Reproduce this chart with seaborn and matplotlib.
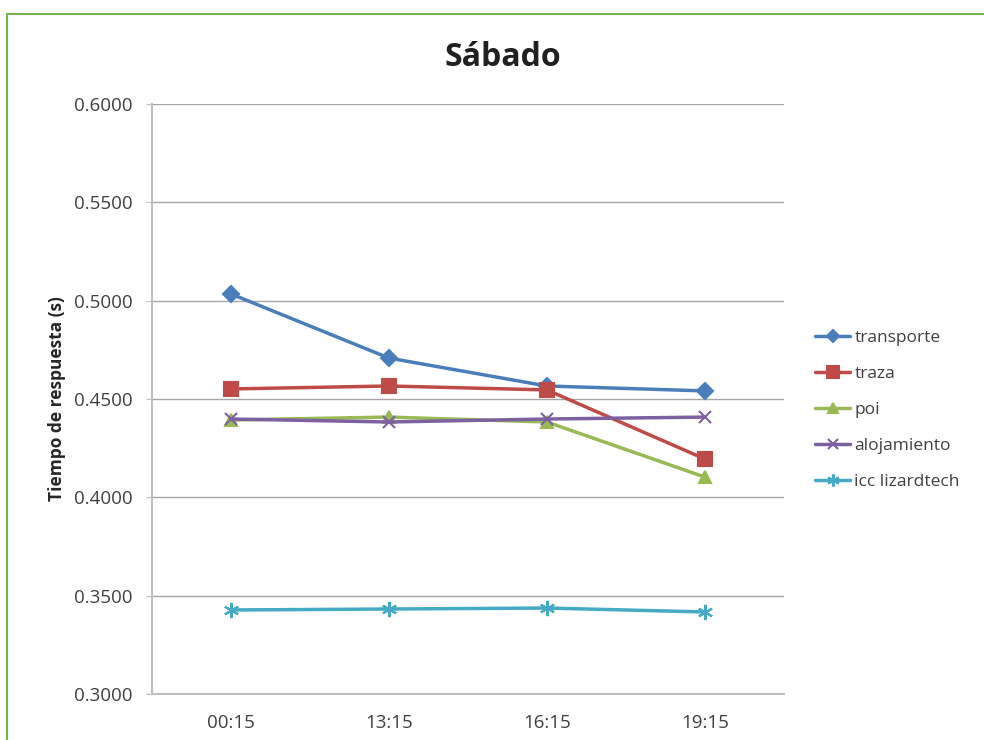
# Sábado - tiempo de respuesta por servicio
import pandas as pd
import matplotlib.pyplot as plt
import seaborn as sns
from matplotlib.lines import Line2D

# data
horas = ['00:15', '13:15', '16:15', '19:15']
transporte = [0.5034, 0.4708, 0.4566, 0.4541]
traza = [0.4551, 0.4566, 0.4546, 0.4195]
poi = [0.4393, 0.4408, 0.4383, 0.4103]
alojamiento = [0.4398, 0.4383, 0.4398, 0.4408]
icc_lizardtech = [0.3427, 0.3432, 0.3437, 0.3417]

series = {
    'transporte': transporte,
    'traza': traza,
    'poi': poi,
    'alojamiento': alojamiento,
    'icc lizardtech': icc_lizardtech,
}
colors = ['#4A7EBB', '#BE4B48', '#98B954', '#7D60A0', '#46AAC5']
markers = ['D', 's', '^', 'x', (6, 2, 0)]
sizes = [8, 10, 9, 9, 11]

sns.set_style('white')
plt.rcParams['font.family'] = ['Open Sans', 'DejaVu Sans']

fig = plt.figure(figsize=(9.84, 7.4), dpi=100)
ax = fig.add_axes([0.1545, 0.0622, 0.642, 0.7973])

for (name, vals), c, m, s in zip(series.items(), colors, markers, sizes):
    df = pd.DataFrame({'hora': horas, 'valor': vals})
    sns.lineplot(data=df, x='hora', y='valor', ax=ax, color=c, marker=m,
                 markersize=s, markeredgecolor=c, markeredgewidth=1.5,
                 linewidth=2.5, label=name, sort=False)

ax.set_xlim(-0.5, 3.5)
ax.set_ylim(0.3, 0.6)
ax.set_yticks([0.30, 0.35, 0.40, 0.45, 0.50, 0.55, 0.60])
ax.set_yticklabels([f'{v:.4f}' for v in ax.get_yticks()])
ax.grid(axis='y', color='#A6A6A6', linewidth=1)
ax.set_axisbelow(True)
for sp in ['top', 'right']:
    ax.spines[sp].set_visible(False)
ax.spines['left'].set_color('#BFBFBF')
ax.spines['bottom'].set_color('#BFBFBF')
ax.spines['left'].set_linewidth(1.5)
ax.spines['bottom'].set_linewidth(1.5)
ax.tick_params(axis='y', left=True, length=4, color='#BFBFBF', labelsize=13.5,
               labelcolor='#404040', pad=10)
ax.tick_params(axis='x', bottom=False, labelsize=13.5, labelcolor='#404040', pad=11)
ax.set_xlabel('')
ax.set_ylabel('Tiempo de respuesta (s)', fontsize=12.5, fontweight='bold', labelpad=6)
fig.text(503 / 984, 1 - 57 / 740, 'Sábado', fontsize=23, fontweight='bold',
         ha='center', va='center', color='#202020')

ax.legend(loc='center left', bbox_to_anchor=(1.025, 0.481), frameon=False,
          fontsize=12.5, labelcolor='#404040', handlelength=2.0,
          handletextpad=0.25, labelspacing=1.15, markerscale=0.8)

# green frame around the chart
fig.add_artist(Line2D([7 / 984, 1], [1 - 14 / 740, 1 - 14 / 740],
                      color='#77B255', linewidth=1.5, transform=fig.transFigure))
fig.add_artist(Line2D([7 / 984, 7 / 984], [0, 1 - 14 / 740],
                      color='#77B255', linewidth=1.5, transform=fig.transFigure))

fig.savefig('out.png', dpi=100)
